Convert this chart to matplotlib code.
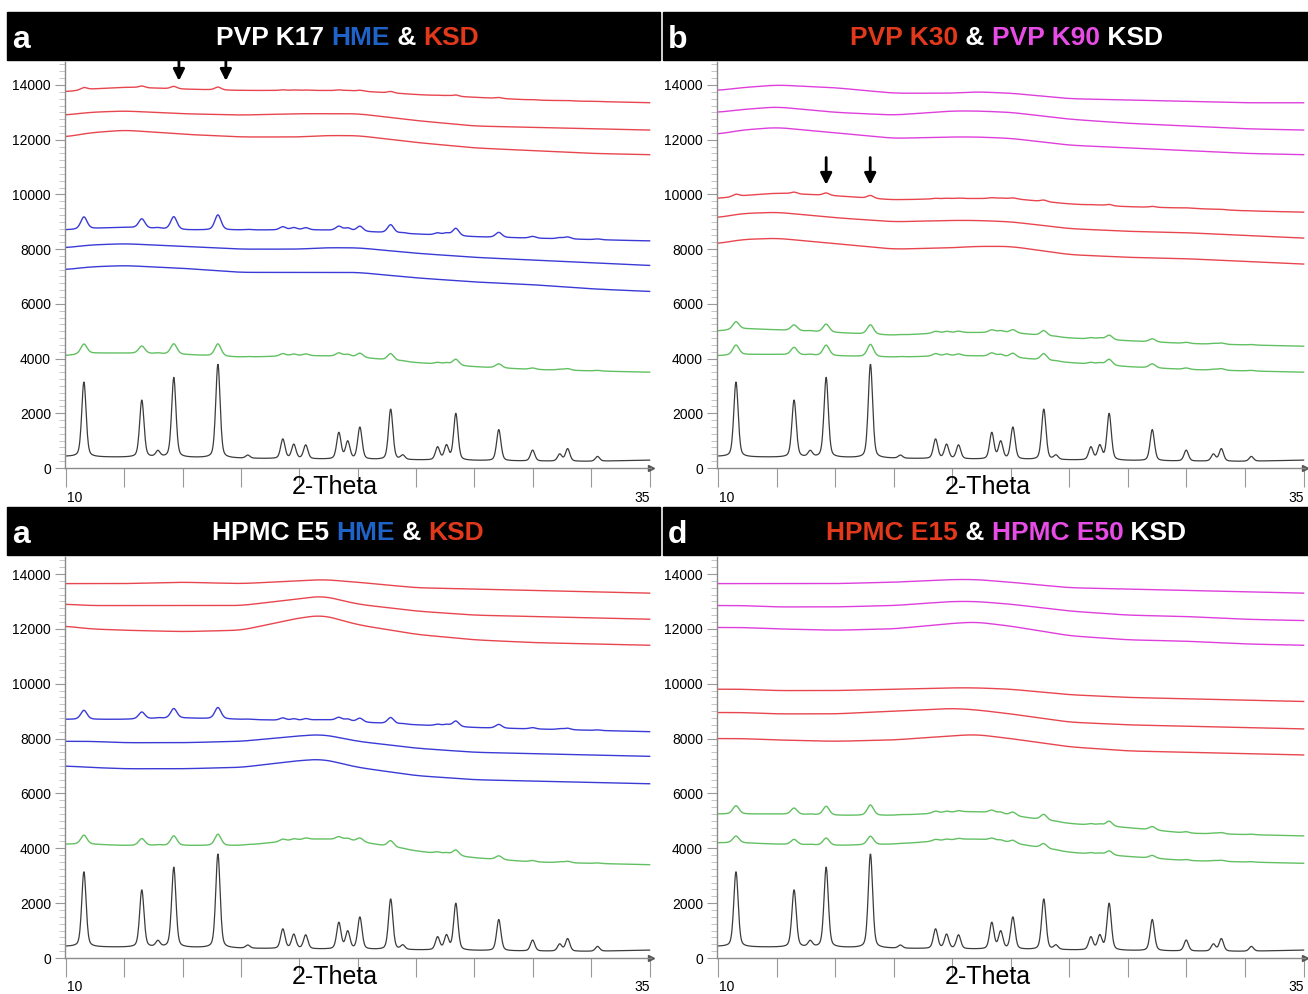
import numpy as np
import matplotlib.pyplot as plt
from matplotlib.patches import Rectangle
from matplotlib.text import Annotation
from matplotlib.ticker import MultipleLocator

plt.rcParams['font.family'] = ['Liberation Sans', 'DejaVu Sans']

ANCHORS = [10, 11, 12.5, 15, 17.5, 20, 21, 22.5, 25, 27.5, 30, 32.5, 35]

# crystalline reference pattern (black trace): peak positions and peak tops
PEAK_POS = [10.77, 13.25, 13.94, 14.62, 16.51, 17.79, 19.29, 19.76, 20.27, 21.69, 22.07,
            22.59, 23.91, 24.43, 25.92, 26.30, 26.70, 28.54, 29.99, 31.15, 31.49, 32.77]
PEAK_TOP = [3150, 2480, 600, 3300, 3800, 460, 1050, 850, 830, 1280, 950,
            1480, 2150, 450, 750, 800, 1980, 1400, 650, 500, 700, 420]
BLACK_BASE = [420, 400, 390, 380, 350, 330, 320, 310, 290, 270, 250, 240, 290]

# panel a : PVP K17 HME & KSD
a_red1 = [13750, 13850, 13920, 13850, 13800, 13800, 13800, 13780, 13650, 13550, 13450, 13400, 13350]
a_red2 = [12900, 13000, 13050, 12950, 12900, 12950, 12950, 12950, 12700, 12500, 12450, 12400, 12350]
a_red3 = [12100, 12250, 12350, 12200, 12100, 12100, 12150, 12150, 11900, 11700, 11600, 11500, 11450]
a_blue1 = [8700, 8750, 8800, 8700, 8700, 8700, 8700, 8650, 8550, 8450, 8400, 8350, 8300]
a_blue2 = [8050, 8150, 8200, 8100, 8000, 8000, 8050, 8050, 7850, 7700, 7600, 7500, 7400]
a_blue3 = [7250, 7350, 7400, 7300, 7150, 7150, 7150, 7150, 6950, 6800, 6700, 6550, 6450]
a_green = [4100, 4200, 4200, 4150, 4050, 4100, 4100, 4050, 3850, 3700, 3600, 3550, 3500]

# panel b : PVP K30 & PVP K90 KSD
b_mag1 = [13800, 13900, 14000, 13900, 13700, 13700, 13750, 13700, 13500, 13450, 13400, 13350, 13350]
b_mag2 = [13000, 13100, 13200, 13000, 12900, 13050, 13050, 13000, 12750, 12600, 12500, 12400, 12350]
b_mag3 = [12200, 12350, 12450, 12250, 12050, 12100, 12100, 12050, 11800, 11700, 11600, 11500, 11450]
b_red1 = [9850, 9950, 10050, 9950, 9800, 9850, 9850, 9850, 9650, 9550, 9500, 9400, 9350]
b_red2 = [9150, 9300, 9350, 9150, 9000, 9050, 9050, 9000, 8750, 8650, 8600, 8500, 8400]
b_red3 = [8200, 8350, 8400, 8200, 8000, 8050, 8100, 8100, 7800, 7700, 7650, 7550, 7450]
b_green1 = [5000, 5100, 5050, 4950, 4850, 4950, 4950, 4950, 4750, 4650, 4550, 4500, 4450]
b_green2 = [4100, 4150, 4150, 4100, 4050, 4100, 4100, 4050, 3850, 3700, 3600, 3550, 3500]

# panel c : HPMC E5 HME & KSD
c_red1 = [13650, 13650, 13650, 13700, 13650, 13750, 13800, 13700, 13500, 13450, 13400, 13350, 13300]
c_red2 = [12900, 12850, 12850, 12850, 12850, 13100, 13200, 12900, 12650, 12500, 12450, 12400, 12350]
c_red3 = [12100, 12000, 11950, 11900, 11950, 12400, 12500, 12150, 11800, 11600, 11500, 11450, 11400]
c_blue1 = [8700, 8700, 8700, 8750, 8700, 8650, 8700, 8600, 8500, 8400, 8350, 8300, 8250]
c_blue2 = [7900, 7900, 7850, 7850, 7900, 8100, 8150, 7900, 7650, 7500, 7450, 7400, 7350]
c_blue3 = [7000, 6950, 6900, 6900, 6950, 7200, 7250, 6950, 6650, 6500, 6450, 6400, 6350]
c_green = [4150, 4150, 4100, 4100, 4100, 4300, 4350, 4250, 3900, 3650, 3500, 3450, 3400]

# panel d : HPMC E15 & HPMC E50 KSD
d_mag1 = [13650, 13650, 13650, 13650, 13700, 13800, 13800, 13700, 13500, 13450, 13400, 13350, 13300]
d_mag2 = [12850, 12850, 12800, 12800, 12850, 13000, 13000, 12900, 12650, 12500, 12450, 12350, 12300]
d_mag3 = [12050, 12050, 12000, 11950, 12000, 12200, 12250, 12100, 11750, 11600, 11550, 11450, 11400]
d_red1 = [9800, 9800, 9750, 9750, 9800, 9850, 9850, 9800, 9600, 9500, 9450, 9400, 9350]
d_red2 = [8950, 8950, 8900, 8900, 9000, 9100, 9050, 8900, 8600, 8500, 8450, 8400, 8350]
d_red3 = [8000, 8000, 7950, 7900, 7950, 8100, 8150, 8000, 7700, 7550, 7500, 7450, 7400]
d_green1 = [5250, 5250, 5250, 5200, 5200, 5300, 5350, 5200, 4900, 4750, 4550, 4500, 4450]
d_green2 = [4200, 4200, 4150, 4100, 4150, 4300, 4350, 4200, 3850, 3700, 3550, 3500, 3450]

# fraction of the crystalline peaks still seen in each trace
a_frac = [0.03, 0, 0, 0.16, 0, 0, 0.13]
b_frac = [0, 0, 0, 0.03, 0, 0, 0.10, 0.13]
c_frac = [0, 0, 0, 0.12, 0, 0, 0.12]
d_frac = [0, 0, 0, 0, 0, 0, 0.11, 0.09]

# arrows marking residual peaks
a_arrows = [14.84, 16.85]
b_arrows = [14.62, 16.50]

RED = '#e8464e'
BLUE = '#3a3ad6'
GREEN = '#62c062'
MAG = '#de3fdc'
GREY = '#3c3c3c'

T_WHITE = 'white'
T_BLUE = '#1f63c9'
T_RED = '#e2391c'
T_MAG = '#e84ce6'

tt = np.arange(10, 35.001, 0.02)


def background(values):
    b = np.interp(tt, ANCHORS, values)
    k = 51
    padded = np.pad(b, k // 2, mode='edge')
    return np.convolve(padded, np.ones(k) / k, mode='valid')


def peak_sum(amps, fwhm):
    out = np.zeros_like(tt)
    g = fwhm / 2
    s = fwhm / 2.3548
    for p, a in zip(PEAK_POS, amps):
        lor = g ** 2 / ((tt - p) ** 2 + g ** 2)
        gau = np.exp(-0.5 * ((tt - p) / s) ** 2)
        out += a * (0.35 * lor + 0.65 * gau)
    return out


black_amp = np.array(PEAK_TOP) - np.interp(PEAK_POS, ANCHORS, BLACK_BASE)
black_trace = background(BLACK_BASE) + peak_sum(black_amp, 0.22)


def trace(values, frac):
    y = background(values)
    if frac > 0:
        y = y + peak_sum(black_amp * frac, 0.32)
    return y


fig = plt.figure(figsize=(13.08, 9.94), dpi=100)
W, H = 1308.0, 994.0


def rect(x0, y0, x1, y1):
    return [x0 / W, 1 - y1 / H, (x1 - x0) / W, (y1 - y0) / H]


def title_bar(x0, x1, y0, y1, letter, pieces, tx):
    fig.patches.append(Rectangle((x0 / W, 1 - y1 / H), (x1 - x0) / W, (y1 - y0) / H,
                                 transform=fig.transFigure, color='black', zorder=1))
    yc = 1 - ((y0 + y1) / 2 + 2) / H
    fig.text((x0 + 5) / W, yc - 0.002, letter, color='white', fontsize=23,
             fontweight='bold', va='center', ha='left', zorder=3)
    prev = None
    for s, c in pieces:
        if prev is None:
            prev = fig.text(tx / W, yc, s, color=c, fontsize=19, fontweight='bold',
                            va='center', ha='left', zorder=3)
        else:
            ann = Annotation(s, xy=(1, 0.5), xycoords=prev, color=c, fontsize=19,
                             fontweight='bold', va='center', ha='left', zorder=3)
            fig.add_artist(ann)
            prev = ann


def panel(box, traces, ytop, arrows=None, arrow_y=None):
    ax = fig.add_axes(rect(*box))
    ax.set_xlim(9.96, 35.06)
    ax.set_ylim(0, ytop)
    for values, frac, col in traces:
        ax.plot(tt, trace(values, frac), color=col, lw=1.0)
    ax.plot(tt, black_trace, color=GREY, lw=0.9)
    for sp in ['top', 'right']:
        ax.spines[sp].set_visible(False)
    for sp in ['left', 'bottom']:
        ax.spines[sp].set_color('#8a8a8a')
        ax.spines[sp].set_linewidth(1.0)
    ax.set_yticks(np.arange(0, 14001, 2000))
    ax.yaxis.set_minor_locator(MultipleLocator(250))
    ax.tick_params(axis='y', which='major', length=7, color='#999999', labelsize=10, pad=3)
    ax.tick_params(axis='y', which='minor', length=4, color='#bbbbbb')
    ax.set_xticks(np.arange(10, 35.01, 2.5))
    ax.set_xticklabels([])
    ax.tick_params(axis='x', which='major', length=14, color='#999999')
    xt = ax.get_xaxis_transform()
    ax.text(10.05, -0.073, '10', transform=xt, ha='left', va='center', fontsize=10)
    ax.text(35.0, -0.073, '35', transform=xt, ha='right', va='center', fontsize=10)
    ax.text(21.5, -0.048, '2-Theta', transform=xt, ha='center', va='center', fontsize=18)
    ax.plot([35.04], [0], marker='>', ms=4, color='#555555', clip_on=False)
    if arrows:
        tail, tip = arrow_y
        for x in arrows:
            ax.annotate('', xy=(x, tip), xytext=(x, tail),
                        arrowprops=dict(arrowstyle='-|>', color='black', lw=2,
                                        mutation_scale=17),
                        annotation_clip=False)
    return ax


ax_a = panel((65, 62, 651, 468),
             [(a_red1, a_frac[0], RED), (a_red2, a_frac[1], RED), (a_red3, a_frac[2], RED),
              (a_blue1, a_frac[3], BLUE), (a_blue2, a_frac[4], BLUE), (a_blue3, a_frac[5], BLUE),
              (a_green, a_frac[6], GREEN)],
             14840, a_arrows, (15050, 14050))

ax_b = panel((717, 62, 1305, 468),
             [(b_mag1, b_frac[0], MAG), (b_mag2, b_frac[1], MAG), (b_mag3, b_frac[2], MAG),
              (b_red1, b_frac[3], RED), (b_red2, b_frac[4], RED), (b_red3, b_frac[5], RED),
              (b_green1, b_frac[6], GREEN), (b_green2, b_frac[7], GREEN)],
             14840, b_arrows, (11450, 10250))

ax_c = panel((65, 557, 651, 958),
             [(c_red1, c_frac[0], RED), (c_red2, c_frac[1], RED), (c_red3, c_frac[2], RED),
              (c_blue1, c_frac[3], BLUE), (c_blue2, c_frac[4], BLUE), (c_blue3, c_frac[5], BLUE),
              (c_green, c_frac[6], GREEN)],
             14620)

ax_d = panel((717, 557, 1305, 958),
             [(d_mag1, d_frac[0], MAG), (d_mag2, d_frac[1], MAG), (d_mag3, d_frac[2], MAG),
              (d_red1, d_frac[3], RED), (d_red2, d_frac[4], RED), (d_red3, d_frac[5], RED),
              (d_green1, d_frac[6], GREEN), (d_green2, d_frac[7], GREEN)],
             14620)

title_bar(7, 660, 12, 60, 'a',
          [('PVP K17 ', T_WHITE), ('HME', T_BLUE), (' & ', T_WHITE), ('KSD', T_RED)], 216)
title_bar(663, 1308, 12, 60, 'b',
          [('PVP K30', T_RED), (' & ', T_WHITE), ('PVP K90', T_MAG), (' KSD', T_WHITE)], 850)
title_bar(7, 660, 507, 555, 'a',
          [('HPMC E5 ', T_WHITE), ('HME', T_BLUE), (' & ', T_WHITE), ('KSD', T_RED)], 212)
title_bar(663, 1308, 507, 555, 'd',
          [('HPMC E15', T_RED), (' & ', T_WHITE), ('HPMC E50', T_MAG), (' KSD', T_WHITE)], 826)

fig.savefig('out.png', dpi=100)
